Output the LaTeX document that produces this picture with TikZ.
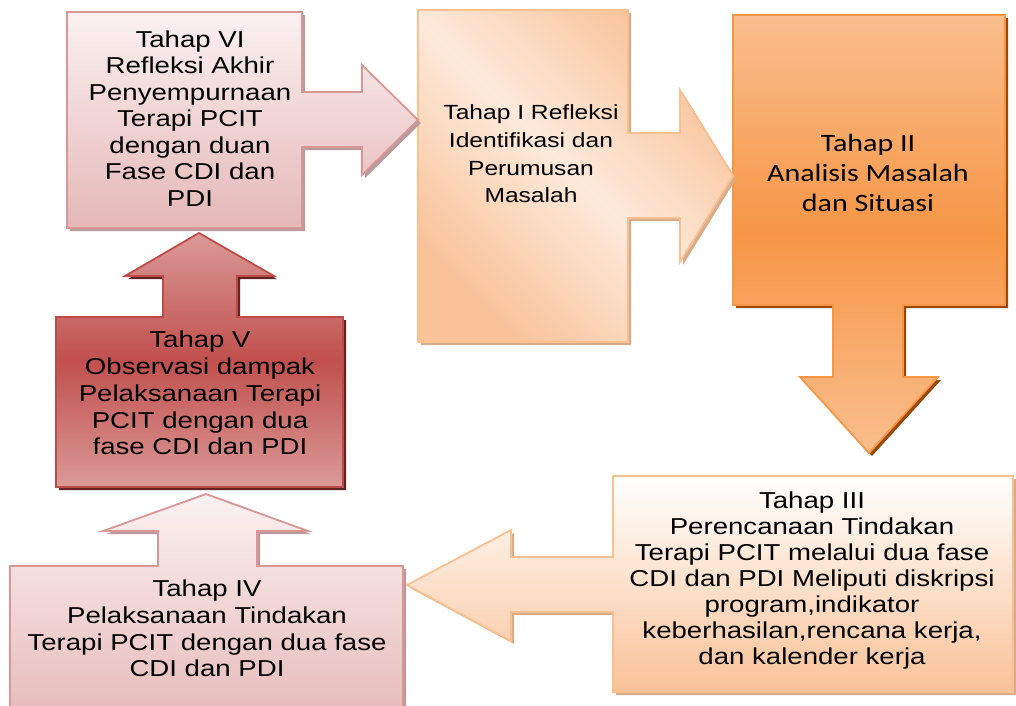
\documentclass[tikz,border=0pt]{standalone}
\usepackage{fontspec}
\usetikzlibrary{shadows}

\newfontfamily\stagefont[FakeStretch=1.2]{Liberation Sans}
\newfontfamily\stagefontc[FakeStretch=1.2]{Carlito}

\definecolor{pinkline}{HTML}{D99694}
\definecolor{pinktop}{HTML}{FBF1F1}
\definecolor{pinkbottom}{HTML}{E5B8B7}
\definecolor{pinkshadow}{HTML}{B89C9C}
\definecolor{redline}{HTML}{BE4B48}
\definecolor{redlight}{HTML}{DB9A98}
\definecolor{redmid}{HTML}{C0504D}
\definecolor{redshadow}{HTML}{632523}
\definecolor{peachline}{HTML}{FAC090}
\definecolor{peachdark}{HTML}{F9C298}
\definecolor{peachlight}{HTML}{FDEADC}
\definecolor{peachshadow}{HTML}{D8AC8A}
\definecolor{orangeline}{HTML}{F79646}
\definecolor{orangelight}{HTML}{F9BE8E}
\definecolor{orangemid}{HTML}{F79646}
\definecolor{orangeshadow}{HTML}{984807}

\begin{document}
\begin{tikzpicture}[x=1pt,y=-1pt,
    stage/.style={line width=1.8pt, line join=miter},
    pinkstage/.style={stage, draw=pinkline, top color=pinktop, bottom color=pinkbottom,
        drop shadow={shadow xshift=3pt, shadow yshift=-3pt, fill=pinkshadow, opacity=1}},
    redstage/.style={stage, draw=redline, top color=redlight, bottom color=redlight, middle color=redmid,
        drop shadow={shadow xshift=3pt, shadow yshift=-3pt, fill=redshadow, opacity=1}},
    peachstage/.style={stage, draw=peachline, top color=peachdark, bottom color=peachdark,
        middle color=peachlight, shading angle=-45,
        drop shadow={shadow xshift=3pt, shadow yshift=-3pt, fill=peachshadow, opacity=1}},
    paleorange/.style={stage, draw=peachline, top color=white, bottom color=peachdark,
        drop shadow={shadow xshift=3pt, shadow yshift=-3pt, fill=peachshadow, opacity=1}},
    orangestage/.style={stage, draw=orangeline, top color=orangelight, bottom color=orangelight,
        middle color=orangemid,
        drop shadow={shadow xshift=3pt, shadow yshift=-3pt, fill=orangeshadow, opacity=1}},
    stagetext/.style={align=center, inner sep=0pt, font=\stagefont\fontsize{23}{26.7}\selectfont}
]

    % Fix the picture size to the reference
    \useasboundingbox (0,0) rectangle (1016,705);
    \clip (0,0) rectangle (1016,705);

    % Tahap II: box with arrow pointing down
    \draw[orangestage] (733,15) -- (1005,15) -- (1005,305) -- (903,305) -- (903,377) -- (938,377)
        -- (869,453) -- (800,377) -- (833,377) -- (833,305) -- (733,305) -- cycle;

    % Tahap I: box with arrow pointing right
    \draw[peachstage] (418,10) -- (628,10) -- (628,133) -- (680,133) -- (680,90) -- (733,176)
        -- (680,262) -- (680,218) -- (628,218) -- (628,342) -- (418,342) -- cycle;

    % Tahap VI: box with arrow pointing right
    \draw[pinkstage] (67,12) -- (302,12) -- (302,92) -- (362,92) -- (362,65) -- (418,120)
        -- (362,175) -- (362,147) -- (302,147) -- (302,228) -- (67,228) -- cycle;

    % Tahap III: box with arrow pointing left
    \draw[paleorange] (613,476) -- (1013,476) -- (1013,692) -- (613,692) -- (613,612) -- (511,612)
        -- (511,641) -- (407,585) -- (511,530) -- (511,557) -- (613,557) -- cycle;

    % Tahap V: box with arrow pointing up
    \draw[redstage] (56,317) -- (163,317) -- (163,276) -- (125,276) -- (199,233) -- (274,276)
        -- (237,276) -- (237,317) -- (343,317) -- (343,487) -- (56,487) -- cycle;

    % Tahap IV: box with arrow pointing up (runs off the bottom edge)
    \draw[pinkstage] (10,566) -- (158,566) -- (158,531) -- (103,531) -- (206,494) -- (308,531)
        -- (257,531) -- (257,566) -- (403,566) -- (403,730) -- (10,730) -- cycle;

    % Labels of the six stages
    \node[stagetext, font=\stagefont\fontsize{20.5}{27.7}\selectfont] (tahap1) at (531,154.1)
        {Tahap I Refleksi\\Identifikasi dan\\Perumusan\\Masalah};
    \node[stagetext, font=\stagefontc\fontsize{25}{30}\selectfont] (tahap2) at (868,173.4)
        {Tahap II\\Analisis Masalah\\dan Situasi};
    \node[stagetext, font=\stagefont\fontsize{23}{26}\selectfont] (tahap3) at (812,580.1)
        {Tahap III\\Perencanaan Tindakan\\Terapi PCIT melalui dua fase\\CDI dan PDI Meliputi diskripsi\\program,indikator\\keberhasilan,rencana kerja,\\dan kalender kerja};
    \node[stagetext] (tahap4) at (207,628.7)
        {Tahap IV\\Pelaksanaan Tindakan\\Terapi PCIT dengan dua fase\\CDI dan PDI};
    \node[stagetext, font=\stagefont\fontsize{23}{26.75}\selectfont] (tahap5) at (200,393.2)
        {Tahap V\\Observasi dampak\\Pelaksanaan Terapi\\PCIT dengan dua\\fase CDI dan PDI};
    \node[stagetext, font=\stagefont\fontsize{23}{26.5}\selectfont] (tahap6) at (190,118.2)
        {Tahap VI\\Refleksi Akhir\\Penyempurnaan\\Terapi PCIT\\dengan duan\\Fase CDI dan\\PDI};

\end{tikzpicture}
\end{document}
